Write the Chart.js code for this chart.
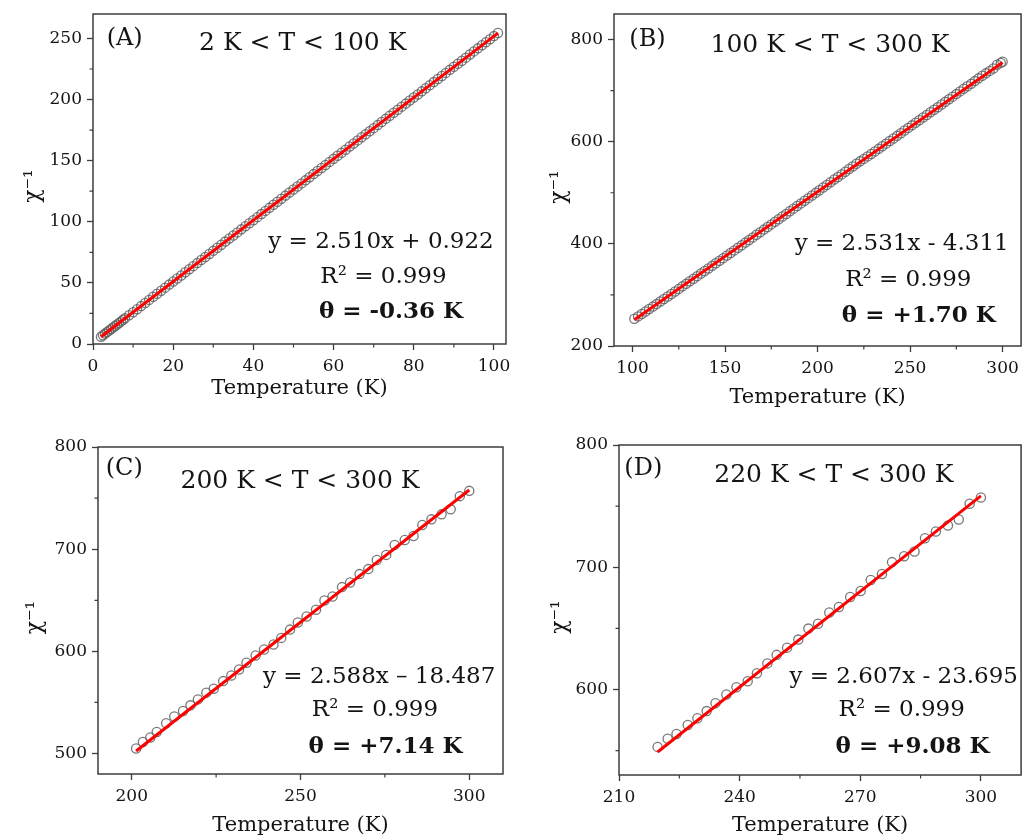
<!DOCTYPE html>
<html><head><meta charset="utf-8">
<script src="https://cdn.jsdelivr.net/npm/chart.js@4.4.1/dist/chart.umd.min.js"></script>
<style>
html,body{margin:0;padding:0;background:#fff;}
body{width:1027px;height:839px;position:relative;overflow:hidden;}
canvas{position:absolute;}
</style></head><body>
<canvas id="cA" width="513" height="410" style="left:0;top:0"></canvas>
<canvas id="cB" width="514" height="410" style="left:513px;top:0"></canvas>
<canvas id="cC" width="513" height="429" style="left:0;top:410px"></canvas>
<canvas id="cD" width="514" height="429" style="left:513px;top:410px"></canvas>
<script>
// ---------- data ----------
const tempA = [2,2.5,3,3.5,4,4.5,5,5.5,6,6.5,7,7.5,8,9,10,11,12,13,14,15,16,17,18,19,20,21,22,23,24,25,26,27,28,29,30,31,32,33,34,35,36,37,38,39,40,41,42,43,44,45,46,47,48,49,50,51,52,53,54,55,56,57,58,59,60,61,62,63,64,65,66,67,68,69,70,71,72,73,74,75,76,77,78,79,80,81,82,83,84,85,86,87,88,89,90,91,92,93,94,95,96,97,98,99,100,101];
const chiA = [6.0,7.2,8.5,9.7,11.0,12.2,13.5,14.7,16.0,17.2,18.5,19.8,21.0,23.5,26.0,28.5,31.0,33.6,36.1,38.6,41.1,43.6,46.1,48.6,51.1,53.6,56.1,58.7,61.2,63.7,66.2,68.7,71.2,73.7,76.2,78.7,81.2,83.8,86.3,88.8,91.3,93.8,96.3,98.8,101.3,103.8,106.3,108.9,111.4,113.9,116.4,118.9,121.4,123.9,126.4,128.9,131.4,133.9,136.5,139.0,141.5,144.0,146.5,149.0,151.5,154.0,156.5,159.0,161.6,164.1,166.6,169.1,171.6,174.1,176.6,179.1,181.6,184.2,186.7,189.2,191.7,194.2,196.7,199.2,201.7,204.2,206.7,209.2,211.8,214.3,216.8,219.3,221.8,224.3,226.8,229.3,231.8,234.3,236.9,239.4,241.9,244.4,246.9,249.4,251.9,254.4];
const fitTempA = [2, 101];
const fitChiA = [5.94, 254.4];

const tempB = [101,103,105,107,109,111,113,115,117,119,121,123,125,127,129,131,133,135,137,139,141,143,145,147,149,151,153,155,157,159,161,163,165,167,169,171,173,175,177,179,181,183,185,187,189,191,193,195,197,199,201,203,205,207,209,211,213,215,217,219,221,223,225,227,229,231,233,235,237,239,241,243,245,247,249,251,253,255,257,259,261,263,265,267,269,271,273,275,277,279,281,283,285,287,289,291,293,295,297,299,300];
const chiB = [253.3,258.0,262.7,267.5,272.4,277.1,282.0,287.0,291.9,296.8,301.7,306.8,311.8,316.8,321.7,326.7,331.8,336.8,341.8,346.8,351.9,356.9,361.9,367.0,372.0,377.2,382.1,387.2,392.3,397.3,402.4,407.5,412.6,417.7,422.8,427.9,433.0,438.1,443.2,448.3,453.4,458.6,463.7,468.9,474.0,479.2,484.4,489.5,494.7,499.8,505.0,510.4,515.4,520.5,525.9,531.0,536.0,541.2,546.4,551.6,556.8,561.5,566.3,571.2,576.0,581.0,586.0,591.1,596.2,601.3,606.3,611.4,616.6,621.8,627.0,632.0,637.0,642.0,647.3,652.2,657.5,662.6,667.6,672.8,678.0,683.0,688.2,693.2,698.5,703.6,708.4,713.2,718.6,724.0,729.0,733.8,738.6,743.4,750.6,754.3,756.5];
const fitTempB = [101, 300];
const fitChiB = [251.3, 755.0];

const tempC = [201.3,203.3,205.5,207.4,210.2,212.6,215.2,217.4,219.6,222.1,224.3,227.1,229.5,231.8,234.0,236.7,239.2,242.0,244.3,246.9,249.2,251.8,254.6,257.1,259.5,262.3,264.7,267.5,270.1,272.6,275.4,277.9,280.9,283.5,286.1,288.8,291.8,294.5,297.2,300.0];
const chiC = [505.0,511.4,515.7,521.1,529.6,536.2,541.6,547.2,553.0,559.6,563.5,570.9,576.4,582.3,588.8,595.9,601.8,606.7,613.2,621.3,628.3,634.2,640.8,649.8,653.7,662.9,667.4,675.6,680.5,689.5,694.4,704.2,709.0,712.9,723.7,729.2,734.1,739.0,751.9,757.1];
const fitTempC = [201.3, 300];
const fitChiC = [502.5, 757.9];

const tempD = [219.6,222.1,224.3,227.1,229.5,231.8,234.0,236.7,239.2,242.0,244.3,246.9,249.2,251.8,254.6,257.1,259.5,262.3,264.7,267.5,270.1,272.6,275.4,277.9,280.9,283.5,286.1,288.8,291.8,294.5,297.2,300.0];
const chiD = [553.0,559.6,563.5,570.9,576.4,582.3,588.8,595.9,601.8,606.7,613.2,621.3,628.3,634.2,640.8,649.8,653.7,662.9,667.4,675.6,680.5,689.5,694.4,704.2,709.0,712.9,723.7,729.2,734.1,739.0,751.9,757.1];
const fitTempD = [219.6, 300];
const fitChiD = [548.8, 758.4];

// tick labels / ranges
const xTicksA = {min: 0, max: 103, step: 20, minor: [10,30,50,70,90]};
const yTicksA = {min: 0, max: 270, step: 50, minor: [25,75,125,175,225]};
const xTicksB = {min: 90, max: 310, step: 50, minor: [125,175,225,275]};
const yTicksB = {min: 200, max: 850, step: 200, minor: [300,500,700]};
const xTicksC = {min: 190, max: 310, step: 50, minor: [225,275]};
const yTicksC = {min: 480, max: 800, step: 100, minor: [550,650,750]};
const xTicksD = {min: 210, max: 310, step: 30, minor: [225,255,285]};
const yTicksD = {min: 530, max: 800, step: 100, minor: [550,650,750]};

const xTitle = 'Temperature (K)';
const yTitle = 'χ⁻¹  ';
const labelsA = ['(A)', '2 K < T < 100 K', 'y = 2.510x + 0.922', 'R² = 0.999', 'θ = -0.36 K'];
const labelsB = ['(B)', '100 K < T < 300 K', 'y = 2.531x - 4.311', 'R² = 0.999', 'θ = +1.70 K'];
const labelsC = ['(C)', '200 K < T < 300 K', 'y = 2.588x – 18.487', 'R² = 0.999', 'θ = +7.14 K'];
const labelsD = ['(D)', '220 K < T < 300 K', 'y = 2.607x - 23.695', 'R² = 0.999', 'θ = +9.08 K'];

// ---------- styles / layout ----------
const SERIF = '"DejaVu Serif", "Liberation Serif", serif';
const AXIS = '#3c3c3c';
const TEXT = '#141414';
const textFonts = ['24px ' + SERIF, '25px ' + SERIF, '23px ' + SERIF, '23px ' + SERIF, 'bold 23px ' + SERIF];

const panels = [
  {id: 'cA', temp: tempA, chi: chiA, fitT: fitTempA, fitC: fitChiA, xt: xTicksA, yt: yTicksA, labels: labelsA,
   canvas: {l: 0, t: 0, w: 513, h: 410}, plot: {l: 93, t: 14, r: 506, b: 344},
   yTitlePad: 20, xTitlePad: 9,
   pos: [[124.7, 39.2], [302.7, 43.3], [381, 241.7], [383.5, 276.7], [391, 311.7]]},
  {id: 'cB', temp: tempB, chi: chiB, fitT: fitTempB, fitC: fitChiB, xt: xTicksB, yt: yTicksB, labels: labelsB,
   canvas: {l: 513, t: 0, w: 514, h: 410}, plot: {l: 614, t: 14, r: 1026, b: 346},
   yTitlePad: 33, xTitlePad: 0,
   pos: [[647.5, 40], [830, 45.8], [901.7, 244], [908.3, 280], [918.8, 315.8]]},
  {id: 'cC', temp: tempC, chi: chiC, fitT: fitTempC, fitC: fitChiC, xt: xTicksC, yt: yTicksC, labels: labelsC,
   canvas: {l: 0, t: 410, w: 513, h: 429}, plot: {l: 98, t: 447, r: 503, b: 774},
   yTitlePad: 22, xTitlePad: 1,
   pos: [[124.3, 468.3], [300, 481.7], [379.2, 676.7], [375, 710], [385.5, 747.5]]},
  {id: 'cD', temp: tempD, chi: chiD, fitT: fitTempD, fitC: fitChiD, xt: xTicksD, yt: yTicksD, labels: labelsD,
   canvas: {l: 513, t: 410, w: 514, h: 429}, plot: {l: 619, t: 445, r: 1026, b: 775},
   yTitlePad: 34, xTitlePad: 1,
   pos: [[643.3, 468.3], [833.8, 475], [903.7, 676.7], [901.7, 710], [912.5, 746.7]]}
];

const framePlugin = {
  id: 'frame',
  afterDatasetsDraw(chart) {
    const {ctx, chartArea: a, scales} = chart;
    const p = chart.options.plugins.frame;
    ctx.save();
    ctx.strokeStyle = AXIS;
    ctx.lineWidth = 1.5;
    ctx.strokeRect(a.left, a.top, a.right - a.left, a.bottom - a.top);
    ctx.lineWidth = 1.2;
    ctx.beginPath();
    p.xMinor.forEach(v => {
      const x = scales.x.getPixelForValue(v);
      ctx.moveTo(x, a.bottom); ctx.lineTo(x, a.bottom + 3.5);
    });
    p.yMinor.forEach(v => {
      const y = scales.y.getPixelForValue(v);
      ctx.moveTo(a.left, y); ctx.lineTo(a.left - 3.5, y);
    });
    ctx.stroke();
    ctx.restore();
  },
  afterDraw(chart) {
    const {ctx} = chart;
    const p = chart.options.plugins.frame;
    ctx.save();
    ctx.fillStyle = TEXT;
    ctx.textAlign = 'center';
    ctx.textBaseline = 'middle';
    p.labels.forEach((txt, i) => {
      ctx.font = textFonts[i];
      ctx.fillText(txt, p.pos[i][0] - p.ox, p.pos[i][1] - p.oy);
    });
    ctx.restore();
  }
};

panels.forEach(P => {
  const yW = P.plot.l - P.canvas.l;
  const xH = P.canvas.t + P.canvas.h - P.plot.b;
  const zeroPad = s => { s.paddingLeft = 0; s.paddingRight = 0; s.paddingTop = 0; s.paddingBottom = 0; };
  new Chart(document.getElementById(P.id), {
    type: 'scatter',
    data: {
      datasets: [
        {label: 'fit', data: P.fitT.map((t, i) => ({x: t, y: P.fitC[i]})), showLine: true,
         borderColor: '#ff0000', borderWidth: 3, pointRadius: 0, order: 0},
        {label: 'data', data: P.temp.map((t, i) => ({x: t, y: P.chi[i]})),
         pointRadius: 4.6, pointBorderWidth: 1.3, pointBorderColor: 'rgba(95,95,95,0.85)',
         pointBackgroundColor: 'rgba(255,255,255,0)', order: 1}
      ]
    },
    options: {
      responsive: false, animation: false,
      layout: {padding: {left: 0, top: P.plot.t - P.canvas.t, right: P.canvas.l + P.canvas.w - P.plot.r, bottom: 0}},
      plugins: {legend: {display: false}, tooltip: {enabled: false},
        frame: {xMinor: P.xt.minor, yMinor: P.yt.minor, labels: P.labels, pos: P.pos, ox: P.canvas.l, oy: P.canvas.t}},
      scales: {
        x: {type: 'linear', min: P.xt.min, max: P.xt.max,
          afterFit: s => { s.height = xH; zeroPad(s); },
          border: {display: false},
          grid: {drawOnChartArea: false, drawTicks: true, tickLength: 6, tickColor: AXIS, tickWidth: 1.3},
          ticks: {stepSize: P.xt.step, includeBounds: false, maxRotation: 0, autoSkip: false, padding: 6,
                  color: TEXT, font: {family: SERIF, size: 17}},
          title: {display: true, text: xTitle, color: TEXT, font: {family: SERIF, size: 21}, padding: {top: 0, bottom: P.xTitlePad}}},
        y: {type: 'linear', min: P.yt.min, max: P.yt.max,
          afterFit: s => { s.width = yW; zeroPad(s); },
          border: {display: false},
          grid: {drawOnChartArea: false, drawTicks: true, tickLength: 6, tickColor: AXIS, tickWidth: 1.3},
          ticks: {stepSize: P.yt.step, includeBounds: false, autoSkip: false, padding: 5,
                  color: TEXT, font: {family: SERIF, size: 17}},
          title: {display: true, text: yTitle, color: TEXT, font: {family: SERIF, size: 22}, padding: {top: P.yTitlePad, bottom: 0}}}
      }
    },
    plugins: [framePlugin]
  });
});
</script>
</body></html>
